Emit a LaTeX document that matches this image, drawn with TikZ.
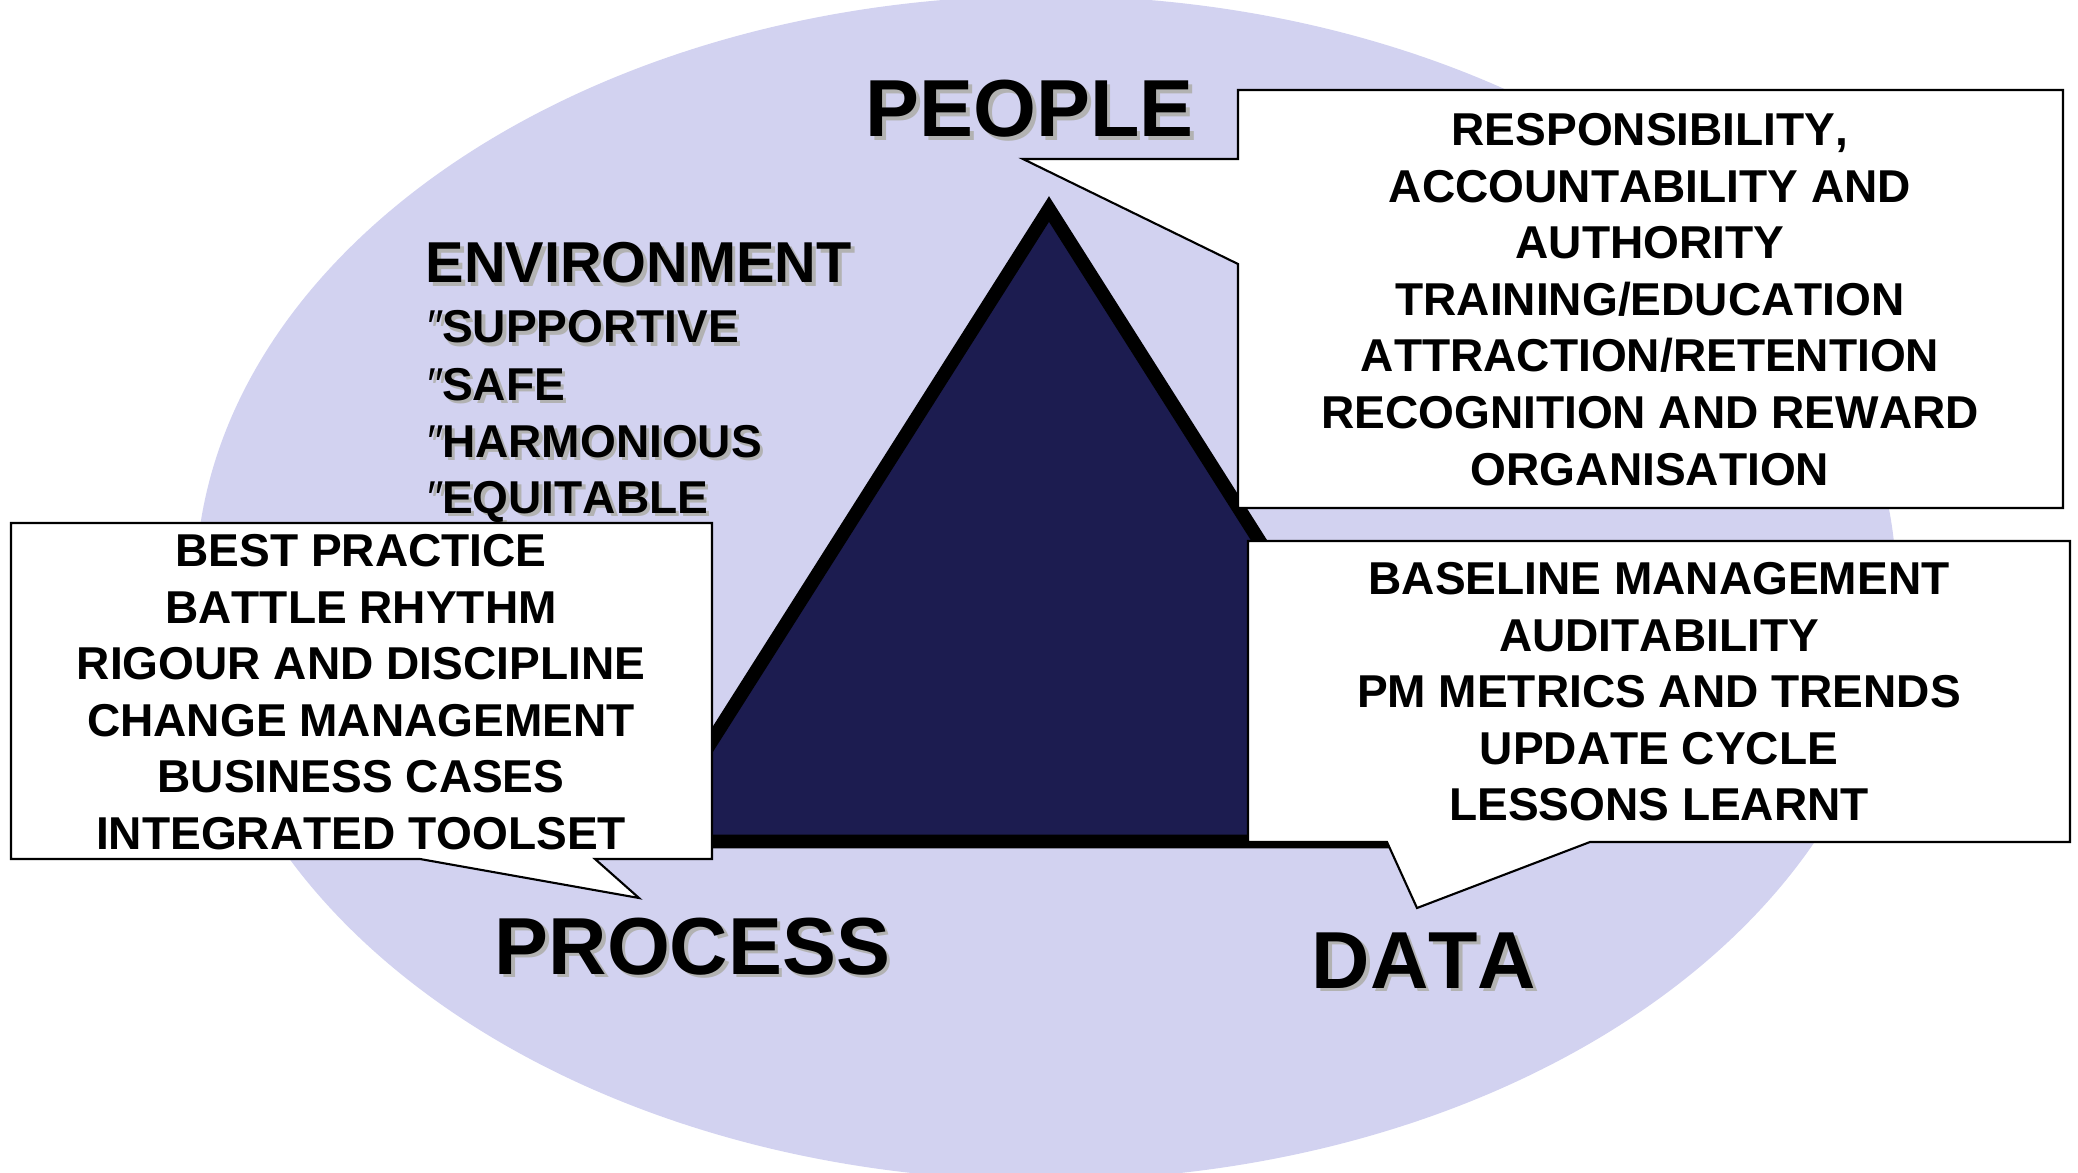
\documentclass[tikz,border=0pt]{standalone}
\usepackage{fontspec}
\setmainfont[Kerning=Off]{Liberation Sans}
\usepackage{tikz}
\usepackage{xcolor}
\usetikzlibrary{positioning, calc}

\definecolor{ovalblue}{RGB}{210,210,240}
\definecolor{pyramidnavy}{RGB}{28,28,80}
\definecolor{shadegray}{RGB}{178,178,178}
\newcommand{\shadowtext}[1]{\makebox[0pt][l]{\hspace{1pt}\raisebox{-1pt}{\textcolor{shadegray}{#1}}}#1}
\newcommand{\tick}{{\mdseries\itshape ″}}

\begin{document}
\begin{tikzpicture}[x=0.01cm, y=-0.01cm,
    bigword/.style={font=\fontsize{23}{28}\selectfont\bfseries, inner sep=0pt, anchor=base west},
    envword/.style={font=\fontsize{16.4}{19}\selectfont\bfseries, inner sep=0pt, anchor=base west},
    envitem/.style={font=\fontsize{13.1}{16}\selectfont\bfseries, inner sep=0pt, anchor=base west},
    callout/.style={draw=black, line width=0.6pt, fill=white},
    callouttext/.style={font=\fontsize{13.1}{16.08}\selectfont\bfseries, align=center, inner sep=0pt}]
    \useasboundingbox (0,0) rectangle (2078,1173);
    \begin{scope}
        \clip (0,0) rectangle (2078,1173);
        \fill[ovalblue] (1046,588) ellipse [x radius=8.5cm, y radius=5.92cm];
    \end{scope}
    \draw[line width=3.9pt, fill=pyramidnavy] (1049,209) -- (1450,841.5) -- (648,841.5) -- cycle;

    \node[bigword] (people) at (865,137) {\shadowtext{PEOPLE}};
    \node[bigword] (process) at (494,974) {\shadowtext{PROCESS}};
    \node[bigword] (data) at (1311,988) {\shadowtext{DATA}};

    \node[envword] (environment) at (425,283) {\shadowtext{ENVIRONMENT}};
    \node[envitem] (supportive) at (425,343) {\shadowtext{\tick SUPPORTIVE}};
    \node[envitem] (safe) at (425,400) {\shadowtext{\tick SAFE}};
    \node[envitem] (harmonious) at (425,457) {\shadowtext{\tick HARMONIOUS}};
    \node[envitem] (equitable) at (425,513) {\shadowtext{\tick EQUITABLE}};

    \draw[callout] (1238,90) -- (2063,90) -- (2063,508) -- (1238,508) -- (1238,264) -- (1023,159) -- (1238,159) -- cycle;
    \node[callouttext] (peoplelist) at (1650,299.5) {RESPONSIBILITY,\\ACCOUNTABILITY AND\\AUTHORITY\\TRAINING/EDUCATION\\ATTRACTION/RETENTION\\RECOGNITION AND REWARD\\ORGANISATION};

    \draw[callout] (1248,541) -- (2070,541) -- (2070,842) -- (1590,842) -- (1417,908) -- (1387,842) -- (1248,842) -- cycle;
    \node[callouttext] (datalist) at (1659,692) {BASELINE MANAGEMENT\\AUDITABILITY\\PM METRICS AND TRENDS\\UPDATE CYCLE\\LESSONS LEARNT};

    \draw[callout] (11,523) -- (712,523) -- (712,859) -- (595,859) -- (639,898) -- (420,859) -- (11,859) -- cycle;
    \node[callouttext] (processlist) at (361,692) {BEST PRACTICE\\BATTLE RHYTHM\\RIGOUR AND DISCIPLINE\\CHANGE MANAGEMENT\\BUSINESS CASES\\INTEGRATED TOOLSET};
\end{tikzpicture}
\end{document}
